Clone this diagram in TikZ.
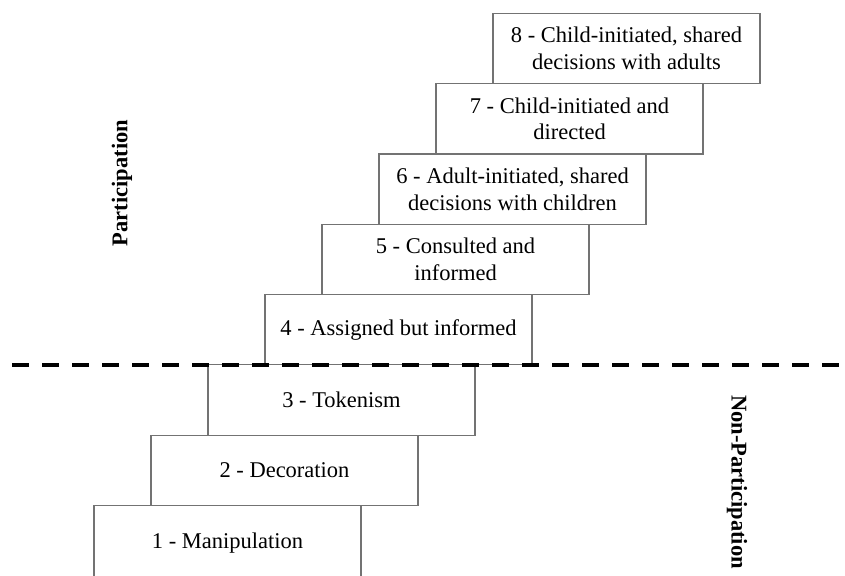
\documentclass[tikz,border=0pt]{standalone}
\usepackage{fontspec}
\setmainfont{Liberation Serif}
\begin{document}
\begin{tikzpicture}[x=1pt,y=-1pt,
  stepbox/.style={draw=black!55,line width=1.1pt,fill=white,rectangle,
    minimum width=267pt,minimum height=70.3pt,inner sep=0pt,outer sep=0pt,
    align=center,font=\fontsize{22.5}{26.5}\selectfont},
  sidelabel/.style={font=\fontsize{22.5}{26}\selectfont\bfseries,inner sep=0pt},
  divider/.style={line width=4pt,dash pattern=on 17pt off 13pt}]
\useasboundingbox (0,0) rectangle (845,575);
\node[stepbox,minimum height=76pt] (b1) at (227.5,543.3) {1 - Manipulation};
\node[stepbox] (b2) at (284.5,470.3) {2 - Decoration};
\node[stepbox] (b3) at (341.5,400.0) {3 - Tokenism};
\node[stepbox] (b4) at (398.5,329.7) {4 - Assigned but informed};
\node[stepbox] (b5) at (455.5,259.4) {5 - Consulted and\\informed};
\node[stepbox] (b6) at (512.5,189.1) {6 - Adult-initiated, shared\\decisions with children};
\node[stepbox] (b7) at (569.5,118.8) {7 - Child-initiated and\\directed};
\node[stepbox] (b8) at (626.5,48.5) {8 - Child-initiated, shared\\decisions with adults};
\coordinate (dl) at (12,364.5);
\coordinate (dr) at (850,364.5);
\draw[divider] (dl) -- (dr);
\node[sidelabel,rotate=90] (part) at (122,183) {Participation};
\node[sidelabel,rotate=-90] (nonpart) at (737,482) {Non-Participation};
\end{tikzpicture}
\end{document}
